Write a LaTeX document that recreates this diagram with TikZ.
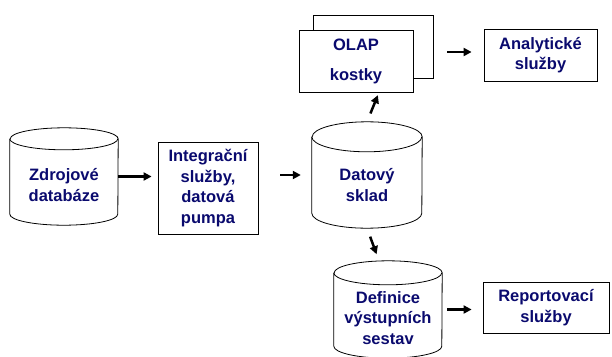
\documentclass[tikz,border=0pt]{standalone}
\usepackage{fontspec}
\setmainfont{Liberation Sans}
\usetikzlibrary{arrows.meta, shapes, calc}
\definecolor{navytext}{RGB}{10,10,110}

% cylinder outline round a named rectangle node: name, x radius, y radius
\newcommand{\dbshape}[3]{%
    \draw[thick] ([yshift = -#3]#1.north west) -- ([yshift = #3]#1.south west)
        arc[start angle = 180, end angle = 360, x radius = #2, y radius = #3]
        -- ([yshift = -#3]#1.north east)
        arc[start angle = 0, end angle = 180, x radius = #2, y radius = #3];
    \draw[thick] ([yshift = -#3]#1.north west)
        arc[start angle = 180, end angle = 360, x radius = #2, y radius = #3];}

\begin{document}
\begin{tikzpicture}[x=1pt, y=-1pt, >={Triangle[length=8pt, width=8pt]}, font=\fontsize{16.5}{20.5}\selectfont\bfseries]%

            \tikzstyle{txt} = [ text = navytext, align = center, inner sep = 0pt]
            \tikzstyle{db}  = [ rectangle, draw = none, inner sep = 0pt]
            \tikzstyle{box} = [ rectangle, draw = black, thick, fill = white, txt]
            \tikzstyle{flow} = [ ->, line width = 2.5pt, black]
        %%
            \useasboundingbox (0,0) rectangle (612,356);

            %% Sources and loading
            \node [db, minimum width = 108pt, minimum height = 97pt,
                   label = {[txt, yshift = -8.5pt]center:Zdrojové\\databáze}] (zdroj) at (64,176.5) {};
            \dbshape{zdroj}{54pt}{11pt}
            \node [box, minimum width = 100pt, minimum height = 92pt] (integ) at (208,188) {Integrační\\služby,\\datová\\pumpa};
            \node [db, minimum width = 110pt, minimum height = 106pt,
                   label = {[txt, yshift = -10pt]center:Datový\\sklad}] (sklad) at (367,175) {};
            \dbshape{sklad}{55pt}{15pt}

            \draw[flow, shorten >= 6pt] (zdroj.east) -- (zdroj.east -| integ.west);
            \draw[flow, shorten <= 22pt, shorten >= 11pt] (sklad.west -| integ.east) -- (sklad.west);

            %% OLAP branch
            \node [box, minimum width = 120pt, minimum height = 63pt] (olap_b) at (373,46.5) {};
            \node [box, minimum width = 114pt, minimum height = 62pt] (olap) at (356,61) {OLAP\\[9.5pt]kostky};
            \node [box, minimum width = 113pt, minimum height = 52pt] (analyt) at (540.5,55) {Analytické\\služby};

            \draw[flow, shorten <= 9pt, shorten >= 3pt] (sklad.north) -- ([xshift = 23pt]olap.south);
            \draw[flow, shorten <= 14pt, shorten >= 12pt] ([yshift = 3pt]analyt.west -| olap_b.east) -- ([yshift = 3pt]analyt.west);

            %% Reporting branch
            \node [db, minimum width = 108pt, minimum height = 97pt,
                   label = {[txt, yshift = -8.5pt]center:Definice\\výstupních\\sestav}] (defin) at (388,309.5) {};
            \dbshape{defin}{54pt}{12pt}
            \node [box, minimum width = 126pt, minimum height = 51pt] (report) at (546,307.5) {Reportovací\\služby};

            \draw[flow, shorten <= 9pt, shorten >= 7pt] (sklad.south) -- ([xshift = -9pt]defin.north);
            \draw[flow, shorten <= 5pt, shorten >= 11pt] (defin.east) -- (defin.east -| report.west);
        \end{tikzpicture}
\end{document}
